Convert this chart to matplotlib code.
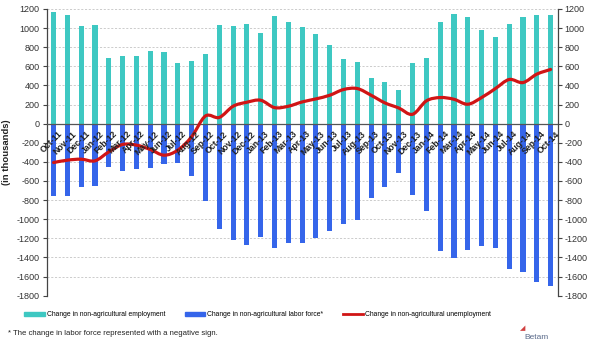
import numpy as np
import matplotlib
matplotlib.use("Agg")
import matplotlib.pyplot as plt
from matplotlib.path import Path
from matplotlib.patches import PathPatch, Patch
from matplotlib.lines import Line2D

#%% data (thousands)
months = ["Oct-11", "Nov-11", "Dec-11", "Jan-12", "Feb-12", "Mar-12", "Apr-12", "May-12",
          "Jun-12", "Jul-12", "Aug-12", "Sep-12", "Oct-12", "Nov-12", "Dec-12", "Jan-13",
          "Feb-13", "Mar-13", "Apr-13", "May-13", "Jun-13", "Jul-13", "Aug-13", "Sep-13",
          "Oct-13", "Nov-13", "Dec-13", "Jan-14", "Feb-14", "Mar-14", "Apr-14", "May-14",
          "Jun-14", "Jul-14", "Aug-14", "Sep-14", "Oct-14"]

employment = [1165, 1137, 1024, 1035, 691, 709, 709, 761, 747, 638, 656, 729,
              1030, 1024, 1040, 947, 1129, 1066, 1007, 933, 821, 677, 645, 473,
              435, 354, 638, 691, 1063, 1147, 1112, 982, 904, 1045, 1119, 1133, 1133]

labor_force = [-758, -758, -663, -649, -453, -491, -477, -467, -418, -407, -547, -814,
               -1102, -1214, -1270, -1189, -1298, -1246, -1246, -1200, -1126, -1049, -1007, -775,
               -663, -519, -747, -919, -1330, -1404, -1323, -1277, -1298, -1519, -1551, -1653, -1698]

unemployment = [-407, -382, -372, -389, -295, -218, -225, -270, -330, -277, -137, 80,
                65, 182, 224, 245, 168, 182, 227, 259, 297, 357, 367, 297,
                217, 164, 98, 238, 273, 255, 203, 273, 367, 462, 430, 518, 567]

yticks = list(range(-1800, 1201, 200))

#%%
c_emp = "#3ec8c2"
c_lab = "#3565ea"
c_une = "#d01515"

fig = plt.figure(figsize=(6.06, 3.45), dpi=100)
ax = fig.add_axes([0.077, 0.143, 0.843, 0.831])

x = np.arange(len(months))
ax.bar(x, employment, width=0.37, color=c_emp, zorder=2)
ax.bar(x, labor_force, width=0.37, color=c_lab, zorder=2)

# smoothed line (bezier through the points, like the spreadsheet "smooth line")
pts = np.column_stack([x, unemployment]).astype(float)
verts = [pts[0]]
codes = [Path.MOVETO]
n = len(pts)
for i in range(n - 1):
    p0 = pts[i - 1] if i > 0 else pts[i]
    p1 = pts[i]
    p2 = pts[i + 1]
    p3 = pts[i + 2] if i + 2 < n else pts[i + 1]
    verts += [p1 + (p2 - p0) / 6.0, p2 - (p3 - p1) / 6.0, p2]
    codes += [Path.CURVE4] * 3
ax.add_patch(PathPatch(Path(verts, codes), fill=False, edgecolor=c_une, lw=2.3,
                       capstyle="round", joinstyle="round", zorder=4))

ax.axhline(0, color="#555555", lw=0.9, zorder=3)

ax.set_xlim(-0.5, len(months) - 0.5)
ax.set_ylim(-1800, 1200)
ax.set_yticks(yticks)
ax.set_yticklabels([str(v) for v in yticks])
ax.yaxis.grid(True, color="#c4c4c4", lw=0.6, ls=(0, (2.5, 2)), zorder=0)
ax.set_axisbelow(True)

ax.tick_params(axis="y", which="both", left=True, right=True, labelleft=True, labelright=True,
               direction="out", length=3, width=0.8, color="#444444",
               labelsize=6.5, labelcolor="#333333", pad=2)
ax.set_xticks([])
for lab in ax.get_yticklabels():
    lab.set_family("Liberation Sans")
for s in ["top", "bottom"]:
    ax.spines[s].set_visible(False)
for s in ["left", "right"]:
    ax.spines[s].set_color("#444444")
    ax.spines[s].set_linewidth(0.9)

# month labels sit just under the zero line
for i, m in enumerate(months):
    ax.annotate(m, xy=(i, 0), xytext=(3, -4), textcoords="offset points",
                rotation=45, ha="right", va="top", rotation_mode="anchor",
                fontsize=6.3, fontweight="bold", family="Liberation Sans",
                color="#222222", zorder=5)

ax.set_ylabel("(in thousands)", fontsize=6.8, fontweight="bold", family="Liberation Sans",
              color="#222222", labelpad=4)

handles = [Patch(color=c_emp), Patch(color=c_lab), Line2D([], [], color=c_une, lw=2)]
labels = ["Change in non-agricultural employment", "Change in non-agricultural labor force*",
          "Change in non-agricultural unemployment"]
fig.legend(handles, labels, loc="center", bbox_to_anchor=(0.425, 0.087), ncol=3, frameon=False,
           prop={"family": "Liberation Sans", "size": 4.9}, handlelength=3.0, handleheight=0.6,
           handletextpad=0.25, columnspacing=2.9)

fig.text(0.013, 0.033, "* The change in labor force represented with a negative sign.",
         fontsize=5.6, family="Liberation Sans", color="#222222", va="center")
fig.text(0.865, 0.022, "Betam", fontsize=6, family="Liberation Sans", color="#5a6a8a",
         va="center")
fig.text(0.858, 0.05, "\u25e2", fontsize=5, color="#d04040", va="center")

fig.savefig("out.png", dpi=100)
